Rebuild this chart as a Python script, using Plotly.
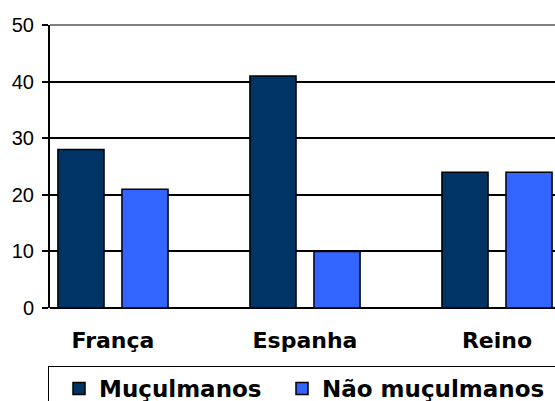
import plotly.graph_objects as go

categories = ["França", "Espanha", "Reino"]
muculmanos = [28, 41, 24]
nao_muculmanos = [21, 10, 24]
series_names = ["Muçulmanos", "Não muçulmanos"]
y_ticks = [0, 10, 20, 30, 40, 50]

dark = "#003366"
blue = "#3366FF"

x_idx = list(range(len(categories)))

fig = go.Figure()
fig.add_trace(go.Bar(x=x_idx, y=muculmanos, name=series_names[0], legendwidth=168,
                     marker=dict(color=dark, line=dict(color="black", width=1.5))))
fig.add_trace(go.Bar(x=x_idx, y=nao_muculmanos, name=series_names[1], legendwidth=229,
                     marker=dict(color=blue, line=dict(color="black", width=1.5))))

fig.update_layout(
    width=555, height=401,
    margin=dict(l=50, r=0, t=25, b=93),
    paper_bgcolor="white", plot_bgcolor="white",
    barmode="group", bargap=0.333, bargroupgap=0.28,
    font=dict(family="Liberation Sans, Arial", color="black"),
    xaxis=dict(
        range=[-0.328, 2.302], automargin=False,
        tickvals=x_idx, ticktext=categories,
        tickfont=dict(family="DejaVu Sans", size=22, weight="bold"),
        showgrid=False, zeroline=False, showline=False, ticks="",
        ticklabelstandoff=17,
    ),
    yaxis=dict(
        range=[0, 50], tickvals=y_ticks, automargin=False,
        tickfont=dict(family="Liberation Sans, Arial", size=20),
        showgrid=True, gridcolor="black", gridwidth=1.5,
        zeroline=True, zerolinecolor="black", zerolinewidth=1.5,
        showline=True, linecolor="black", linewidth=2,
        ticks="outside", ticklen=6, tickcolor="black", tickwidth=1.5,
        ticklabelstandoff=4,
    ),
    legend=dict(
        orientation="h", xref="container", yref="container",
        x=48 / 555, xanchor="left", y=1 - 366 / 401, yanchor="top",
        bordercolor="black", borderwidth=1, bgcolor="white",
        font=dict(family="DejaVu Sans", size=23, weight="bold"),
        entrywidthmode="pixels", indentation=10,
        traceorder="normal",
    ),
    shapes=[dict(type="line", xref="paper", yref="paper", x0=0, x1=1, y0=1, y1=1,
                 line=dict(color="#808080", width=2))],
)

fig.write_html("out.html", config={"displayModeBar": False},
               post_script="document.body.style.margin='0';")
